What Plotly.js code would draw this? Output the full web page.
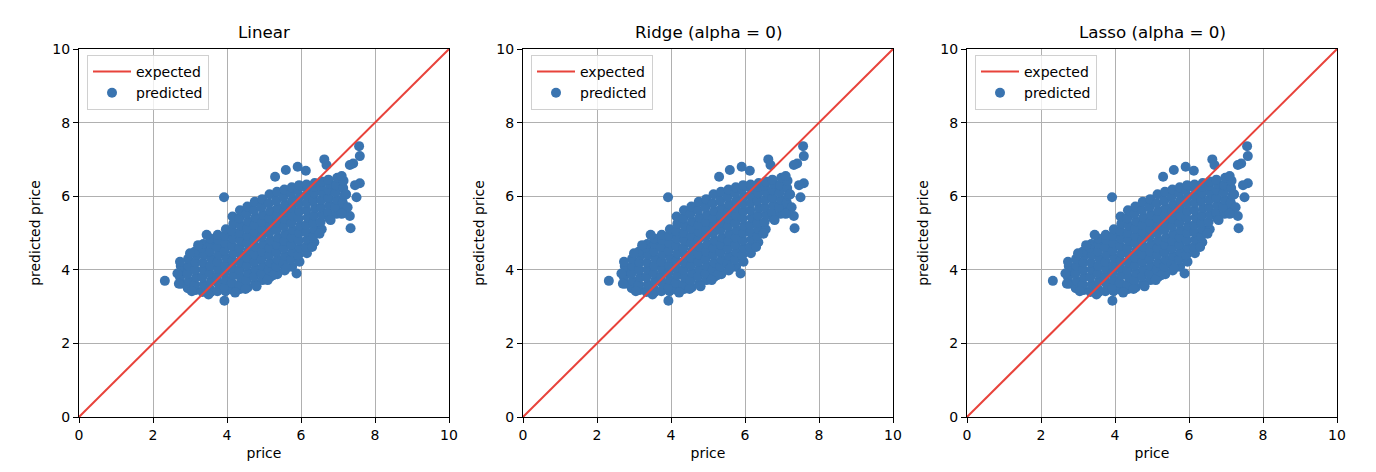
<!DOCTYPE html>
<html>
<head>
<meta charset="utf-8">
<script src="https://cdn.plot.ly/plotly-3.0.1.min.js"></script>
<style>html,body{margin:0;padding:0;background:#fff;}#chart{width:1376px;height:472px;}</style>
</head>
<body>
<div id="chart"></div>
<script>
// ---- data ----
const panelTitles = ['Linear', 'Ridge (alpha = 0)', 'Lasso (alpha = 0)'];
const tickValues = [0, 2, 4, 6, 8, 10];
const tickLabels = ['0', '2', '4', '6', '8', '10'];
const expectedPrice = [0, 10];
const expectedPredicted = [0, 10];

const price = [
  2.76,2.73,2.77,2.75,
  2.94,2.97,2.93,2.96,2.95,
  3.16,3.13,3.17,3.14,3.15,3.18,3.14,
  3.34,3.37,3.33,3.36,3.35,3.38,3.34,3.36,
  3.56,3.53,3.57,3.54,3.55,3.58,3.54,3.56,3.55,
  3.74,3.77,3.73,3.76,3.75,3.78,3.74,3.76,3.75,
  3.96,3.93,3.97,3.94,3.95,3.98,3.94,3.96,3.95,3.97,
  4.16,4.13,4.17,4.14,4.15,4.18,4.14,4.16,4.15,4.17,4.15,
  4.36,4.33,4.37,4.34,4.35,4.38,4.34,4.36,4.35,4.37,4.33,4.35,
  4.56,4.53,4.57,4.54,4.55,4.58,4.54,4.56,4.55,4.57,4.53,4.55,
  4.76,4.73,4.77,4.74,4.75,4.78,4.74,4.76,4.75,4.77,4.73,4.75,
  4.96,4.93,4.97,4.94,4.95,4.98,4.94,4.96,4.95,4.97,4.93,4.95,
  5.16,5.13,5.17,5.14,5.15,5.18,5.14,5.16,5.15,5.17,5.13,5.15,
  5.36,5.33,5.37,5.34,5.35,5.38,5.34,5.36,5.35,5.37,5.33,5.35,
  5.56,5.53,5.57,5.54,5.55,5.58,5.54,5.56,5.55,5.57,5.53,5.55,
  5.76,5.73,5.77,5.74,5.75,5.78,5.74,5.76,5.75,5.77,5.73,5.75,
  5.96,5.93,5.97,5.94,5.95,5.98,5.94,5.96,5.95,5.97,5.93,5.95,
  6.16,6.13,6.17,6.14,6.15,6.18,6.14,6.16,6.15,6.17,6.15,
  6.36,6.33,6.37,6.34,6.35,6.38,6.34,6.36,6.35,6.37,
  6.56,6.53,6.57,6.54,6.55,6.58,6.54,6.56,
  6.76,6.73,6.77,6.74,6.75,6.78,6.74,
  6.96,6.93,6.97,6.94,6.95,6.98,
  7.16,7.13,7.17,7.14,7.15,
  2.32,3.93,3.92,4.80,5.88,5.30,5.59,5.91,6.13,6.63,
  6.69,7.57,7.59,7.41,7.32,7.59,7.46,7.50,7.32,7.34,
  7.26,7.22,7.10,3.22,3.00,3.45,2.73,2.66,2.70,3.05,
  3.50,4.22,4.50,5.25,5.60,6.30,6.50,6.80,7.10,5.10
];

const predicted = [
  3.62,3.80,3.98,4.10,
  3.50,3.70,3.90,4.10,4.30,
  3.45,3.60,3.80,4.00,4.20,4.40,4.50,
  3.40,3.60,3.80,4.00,4.20,4.40,4.60,4.70,
  3.40,3.50,3.70,3.90,4.10,4.30,4.50,4.70,4.85,
  3.42,3.62,3.82,4.02,4.22,4.42,4.62,4.82,4.95,
  3.42,3.52,3.72,3.92,4.12,4.32,4.52,4.72,4.92,5.10,
  3.45,3.65,3.85,4.05,4.25,4.45,4.65,4.85,5.05,5.25,5.45,
  3.48,3.60,3.80,4.00,4.20,4.40,4.60,4.80,5.00,5.20,5.40,5.62,
  3.52,3.72,3.92,4.12,4.32,4.52,4.72,4.92,5.12,5.32,5.52,5.72,
  3.62,3.82,4.02,4.22,4.42,4.62,4.82,5.02,5.22,5.42,5.62,5.85,
  3.72,3.90,4.10,4.30,4.50,4.70,4.90,5.10,5.30,5.50,5.70,5.92,
  3.80,4.00,4.20,4.40,4.60,4.80,5.00,5.20,5.40,5.60,5.80,6.05,
  3.88,4.08,4.28,4.48,4.68,4.88,5.08,5.28,5.48,5.68,5.88,6.12,
  3.98,4.18,4.38,4.58,4.78,4.98,5.18,5.38,5.58,5.78,5.98,6.18,
  4.08,4.28,4.48,4.68,4.88,5.08,5.28,5.48,5.68,5.88,6.08,6.24,
  4.22,4.40,4.60,4.80,5.00,5.20,5.40,5.60,5.80,6.00,6.20,6.30,
  4.45,4.62,4.82,5.02,5.22,5.42,5.62,5.82,6.02,6.20,6.32,
  4.75,4.92,5.10,5.28,5.48,5.68,5.88,6.08,6.25,6.36,
  5.10,5.30,5.50,5.70,5.90,6.10,6.28,6.40,
  5.40,5.56,5.76,5.96,6.16,6.34,6.45,
  5.52,5.70,5.90,6.10,6.30,6.50,
  5.62,5.82,6.02,6.22,6.42,
  3.70,3.16,5.97,3.55,3.90,6.53,6.71,6.80,6.69,7.00,
  6.85,7.36,7.09,6.89,6.85,6.35,6.30,5.97,5.46,5.13,
  5.70,6.05,6.55,4.67,4.45,4.95,4.22,3.90,3.62,3.42,
  3.33,3.38,3.48,3.85,4.05,4.62,4.98,5.35,5.52,3.72
];

// ---- styling / layout ----
const FONT = 'DejaVu Sans, Liberation Sans, sans-serif';
const BLUE = '#3a74b0';
const RED = '#e8433b';
const W = 1376, H = 472;
const plotLeft = [79, 523, 967];
const plotWidth = 370;
const plotTop = 49, plotBottom = 417;
const legendNames = ['legend', 'legend2', 'legend3'];

const data = [];
const layout = {
  width: W, height: H,
  margin: {l: 0, r: 0, t: 0, b: 0},
  paper_bgcolor: '#fff', plot_bgcolor: '#fff',
  font: {family: FONT, size: 14, color: '#000'},
  showlegend: true,
  annotations: []
};

for (let i = 0; i < 3; i++) {
  const xa = i === 0 ? 'x' : 'x' + (i + 1);
  const ya = i === 0 ? 'y' : 'y' + (i + 1);
  const xKey = i === 0 ? 'xaxis' : 'xaxis' + (i + 1);
  const yKey = i === 0 ? 'yaxis' : 'yaxis' + (i + 1);
  const d0 = plotLeft[i] / W, d1 = (plotLeft[i] + plotWidth) / W;
  const axisCommon = {
    range: [0, 10], tickmode: 'array', tickvals: tickValues, ticktext: tickLabels,
    ticks: 'outside', ticklen: 5, tickwidth: 1, tickcolor: '#000',
    showline: true, linecolor: '#000', linewidth: 1, mirror: true,
    showgrid: true, gridcolor: '#b0b0b0', gridwidth: 1, zeroline: false,
    tickfont: {family: FONT, size: 14, color: '#000'}, automargin: false, fixedrange: true
  };
  layout[xKey] = Object.assign({}, axisCommon, {
    domain: [d0, d1], anchor: ya,
    title: {text: 'price', font: {family: FONT, size: 14, color: '#000'}, standoff: 6}
  });
  layout[yKey] = Object.assign({}, axisCommon, {
    domain: [1 - plotBottom / H, 1 - plotTop / H], anchor: xa,
    title: {text: 'predicted price', font: {family: FONT, size: 14, color: '#000'}, standoff: 8}
  });
  layout[legendNames[i]] = {
    x: (plotLeft[i] + 8) / W, y: 1 - 55 / H, xanchor: 'left', yanchor: 'top',
    bgcolor: 'rgba(255,255,255,0.8)', bordercolor: '#d0d0d0', borderwidth: 1,
    font: {family: FONT, size: 14, color: '#000'}, tracegroupgap: 0, itemwidth: 38
  };
  layout.annotations.push({
    text: panelTitles[i], xref: 'paper', yref: 'paper',
    x: (plotLeft[i] + plotWidth / 2) / W, y: 1 - 32 / H,
    xanchor: 'center', yanchor: 'middle', showarrow: false,
    font: {family: FONT, size: 16.7, color: '#000'}
  });
  data.push({
    type: 'scatter', mode: 'markers', name: 'predicted',
    x: price, y: predicted, xaxis: xa, yaxis: ya,
    marker: {color: BLUE, size: 10, line: {width: 0}},
    legend: legendNames[i], legendrank: 2, hoverinfo: 'skip'
  });
  data.push({
    type: 'scatter', mode: 'lines', name: 'expected',
    x: expectedPrice, y: expectedPredicted, xaxis: xa, yaxis: ya,
    line: {color: RED, width: 2},
    legend: legendNames[i], legendrank: 1, hoverinfo: 'skip'
  });
}

Plotly.newPlot('chart', data, layout, {staticPlot: true, displayModeBar: false});
</script>
</body>
</html>
